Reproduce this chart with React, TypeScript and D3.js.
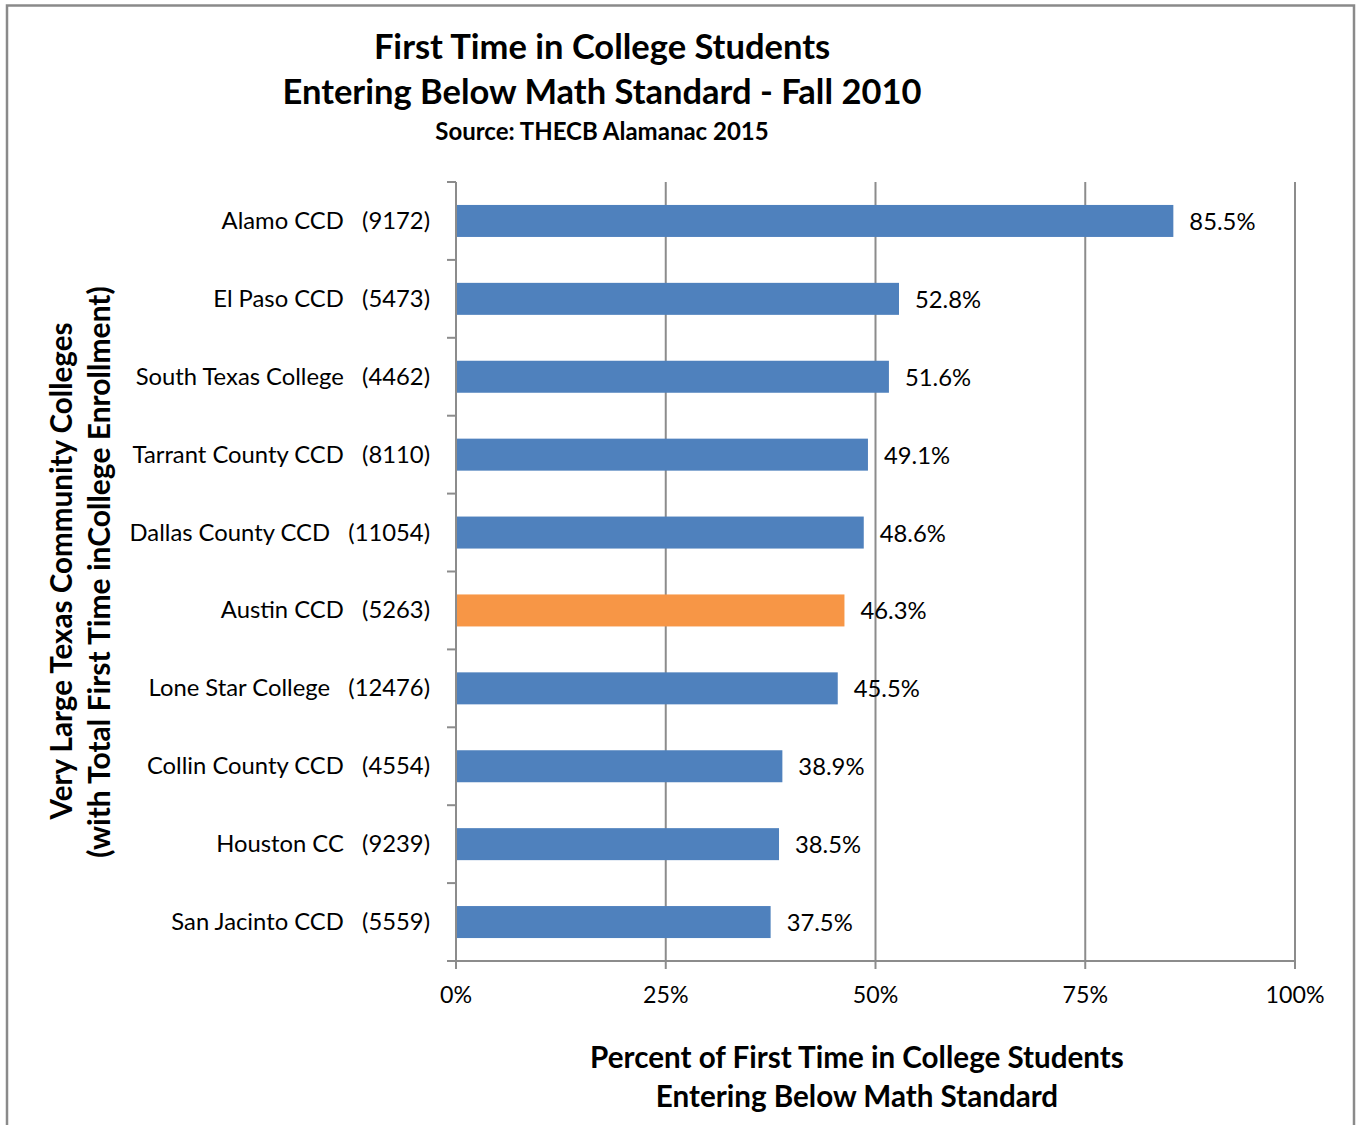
import { FC } from "react";
import * as d3 from "d3";

const WIDTH = 1357;
const HEIGHT = 1125;
const FONT = "Lato, 'Open Sans', sans-serif";

const colleges = [
  "Alamo CCD",
  "El Paso CCD",
  "South Texas College",
  "Tarrant County CCD",
  "Dallas County CCD",
  "Austin CCD",
  "Lone Star College",
  "Collin County CCD",
  "Houston CC",
  "San Jacinto CCD",
];
const enrollment = [9172, 5473, 4462, 8110, 11054, 5263, 12476, 4554, 9239, 5559];
const belowMath = [85.5, 52.8, 51.6, 49.1, 48.6, 46.3, 45.5, 38.9, 38.5, 37.5];
const highlight = "Austin CCD";
const xTicks = [0, 25, 50, 75, 100];

const BLUE = "#4f81bd";
const ORANGE = "#f79646";
const GRID = "#8c8c8c";

const App: FC = () => {
  const x = d3.scaleLinear().domain([0, 100]).range([456, 1295]);
  const y = d3.scaleBand<string>().domain(colleges).range([182, 961]);
  const barH = 32;

  return (
    <svg
      width={WIDTH}
      height={HEIGHT}
      style={{ position: "absolute", left: 0, top: 0, background: "#fff" }}
      fontFamily={FONT}
    >
      <rect x={7} y={5.5} width={1347} height={1130} fill="#fff" stroke="#8a8a8a" strokeWidth={2.5} />

      <g textAnchor="middle" fontWeight="bold" fill="#000">
        <text x={602} y={59} fontSize={34.5}>First Time in College Students</text>
        <text x={602} y={104} fontSize={34.5}>Entering Below Math Standard - Fall 2010</text>
        <text x={602} y={140} fontSize={24}>Source: THECB Alamanac 2015</text>
      </g>

      {/* gridlines */}
      {xTicks.slice(1).map((t) => (
        <line key={t} x1={x(t)} x2={x(t)} y1={182} y2={961} stroke={GRID} strokeWidth={2} />
      ))}

      {/* bars */}
      {colleges.map((c, i) => {
        const yc = y(c)! + y.bandwidth() / 2;
        return (
          <g key={c}>
            <rect
              x={x(0)}
              y={yc - barH / 2}
              width={x(belowMath[i]) - x(0)}
              height={barH}
              fill={c === highlight ? ORANGE : BLUE}
            />
            <text x={x(belowMath[i]) + 16} y={yc + 9} fontSize={23.8} fill="#000">
              {belowMath[i].toFixed(1)}%
            </text>
            <text x={430} y={yc + 8} fontSize={23.8} textAnchor="end" fill="#000" style={{ whiteSpace: "pre" }}>
              {`${c}   (${enrollment[i]})`}
            </text>
          </g>
        );
      })}

      {/* axes */}
      <line x1={456} x2={456} y1={182} y2={961} stroke={GRID} strokeWidth={2} />
      {d3.range(colleges.length + 1).map((k) => {
        const yy = 182 + k * y.step();
        return <line key={k} x1={447} x2={456} y1={yy} y2={yy} stroke={GRID} strokeWidth={2} />;
      })}
      <line x1={447} x2={1295} y1={961} y2={961} stroke={GRID} strokeWidth={2} />
      {xTicks.map((t) => (
        <g key={t}>
          <line x1={x(t)} x2={x(t)} y1={961} y2={969} stroke={GRID} strokeWidth={2} />
          <text x={x(t)} y={1003} fontSize={23.2} textAnchor="middle" fill="#000">
            {t}%
          </text>
        </g>
      ))}

      <g textAnchor="middle" fontWeight="bold" fontSize={29.6} fill="#000">
        <text x={857} y={1068}>Percent of First Time in College Students</text>
        <text x={857} y={1107}>Entering Below Math Standard</text>
        <text transform="translate(72,571) rotate(-90)">Very Large Texas Community Colleges</text>
        <text transform="translate(110,572) rotate(-90)" fontSize={30}>(with Total First Time inCollege Enrollment)</text>
      </g>
    </svg>
  );
};

export default App;
